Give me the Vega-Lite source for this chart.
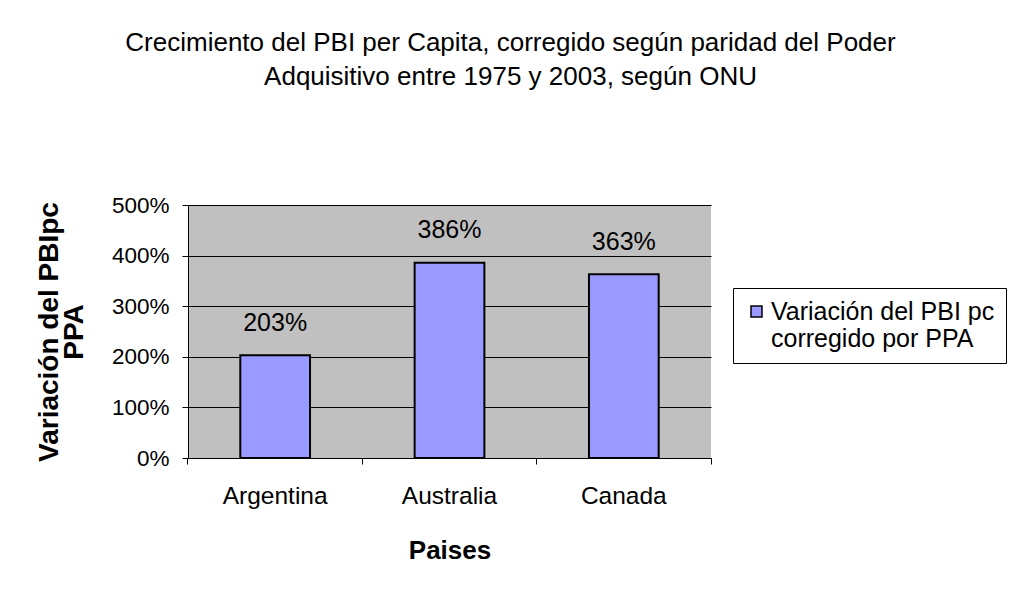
{
  "$schema": "https://vega.github.io/schema/vega-lite/v6.json",
  "width": 523,
  "height": 253,
  "autosize": {"type": "none"},
  "padding": {"left": 188, "top": 205, "right": 305, "bottom": 144},
  "background": "white",
  "data": {"values": [
    {"pais": "Argentina", "variacion": 2.03, "serie": "Variación del PBI pc corregido por PPA"},
    {"pais": "Australia", "variacion": 3.86, "serie": "Variación del PBI pc corregido por PPA"},
    {"pais": "Canada", "variacion": 3.63, "serie": "Variación del PBI pc corregido por PPA"}
  ]},
  "title": {
    "text": ["Crecimiento del PBI per Capita, corregido según paridad del Poder", "Adquisitivo entre 1975 y 2003, según ONU"],
    "font": "Liberation Sans",
    "fontSize": 26,
    "fontWeight": "normal",
    "color": "black",
    "lineHeight": 34,
    "anchor": "middle",
    "frame": "group",
    "dx": 61,
    "offset": 104
  },
  "config": {
    "font": "Liberation Sans",
    "view": {"fill": "#C0C0C0", "stroke": null},
    "axis": {"labelColor": "black", "titleColor": "black", "domainColor": "black", "tickColor": "black", "gridColor": "black", "gridOpacity": 1, "labelFont": "Liberation Sans", "titleFont": "Liberation Sans"}
  },
  "encoding": {
    "x": {
      "field": "pais",
      "type": "nominal",
      "sort": null,
      "scale": {"paddingInner": 0.6, "paddingOuter": 0.3}
    },
    "y": {
      "field": "variacion",
      "type": "quantitative",
      "scale": {"domain": [0, 5], "nice": false}
    }
  },
  "layer": [
    {
      "mark": {"type": "bar", "fill": "#9999FF", "stroke": "black", "strokeWidth": 2},
      "encoding": {
        "fill": {"field": "serie", "type": "nominal", "scale": {"range": ["#9999FF"]},
          "legend": {
            "orient": "none", "legendX": 545, "legendY": 83,
            "title": null,
            "strokeColor": "black", "fillColor": "white",
            "padding": 11,
            "symbolType": "square", "symbolSize": 121, "symbolStrokeColor": "black", "symbolStrokeWidth": 1.5, "symbolFillColor": "#9999FF",
            "labelOffset": 2,
            "labelFont": "Liberation Sans", "labelFontSize": 25, "labelColor": "black", "labelLimit": 400,
            "labelExpr": "['Variación del PBI pc', 'corregido por PPA']"
          }
        },
        "x": {
          "field": "pais", "type": "nominal", "sort": null,
          "axis": {
            "title": "Paises", "titleFontSize": 26, "titleFontWeight": "bold", "titlePadding": 30,
            "labelAngle": 0, "labelFontSize": 24.5, "labelPadding": 20,
            "tickSize": 6, "bandPosition": -0.75, "domainWidth": 1
          }
        },
        "y": {
          "field": "variacion", "type": "quantitative",
          "axis": {
            "title": ["Variación del PBIpc", "PPA"], "titleFontSize": 28, "titleFontWeight": "bold", "titlePadding": 23, "titleLineHeight": 25,
            "values": [0, 1, 2, 3, 4, 5],
            "format": ".0%",
            "labelFontSize": 22.5, "labelPadding": 13, "tickSize": 6,
            "grid": true, "gridWidth": 1, "domainWidth": 1
          }
        }
      }
    },
    {
      "mark": {"type": "text", "fontSize": 25, "font": "Liberation Sans", "dy": -24.5, "baseline": "alphabetic", "color": "black"},
      "encoding": {
        "text": {"field": "variacion", "type": "quantitative", "format": ".0%"},
        "x": {"field": "pais", "type": "nominal", "sort": null,
          "axis": {"title": null, "labels": false, "domain": false, "grid": false, "tickSize": 6, "bandPosition": 1.75, "values": ["Canada"], "orient": "bottom"}}
      }
    }
  ],
  "resolve": {"axis": {"x": "independent"}}
}
